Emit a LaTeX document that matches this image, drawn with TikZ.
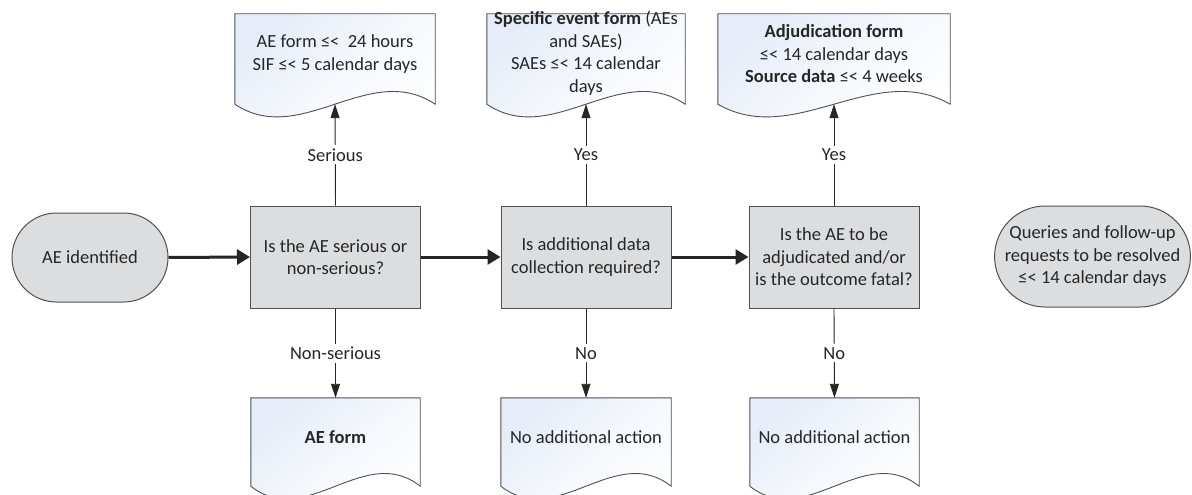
\documentclass[tikz,border=0pt]{standalone}
\usepackage{fontspec}
\setmainfont{Carlito}
\usetikzlibrary{arrows.meta,calc,shapes.misc}

\definecolor{boxgray}{HTML}{DCDDDF}
\definecolor{edgegray}{HTML}{505050}
\definecolor{docblue}{HTML}{E6EDF8}
\definecolor{inkgray}{HTML}{262626}

\tikzset{
  base/.style={font=\fontsize{18.5}{22.5}\selectfont, text=inkgray, align=center},
  decision/.style={base, rectangle, draw=edgegray, line width=1pt, fill=boxgray,
    minimum width=170pt, minimum height=102pt, inner sep=0pt},
  terminal/.style={base, rounded rectangle, draw=edgegray, line width=1pt, fill=boxgray, inner sep=0pt},
  docarea/.style={rectangle, inner sep=0pt},
  doctext/.style={base, inner sep=0pt},
  thinarrow/.style={draw=inkgray, line width=0.9pt, -{Triangle[length=14pt,width=9pt]}},
  thickarrow/.style={draw=inkgray, line width=3pt, -{Triangle[length=13pt,width=15pt]}},
  branch/.style={base, fill=white, inner sep=3pt},
}

% document symbol: flat top, wavy bottom, drawn round a named area
\newcommand\docoutline[1]{%
  \path[draw=edgegray, line width=0.9pt, top color=docblue, bottom color=white, middle color=white!60!docblue, shading angle=40]
    (#1.north west) -- (#1.north east) -- (#1.south east)
    .. controls ($(#1.south east)!0.33!(#1.south west)+(0pt,44pt)$)
       and ($(#1.south east)!0.67!(#1.south west)+(0pt,-44pt)$) .. (#1.south west)
    -- cycle;}

\begin{document}
\begin{tikzpicture}[x=1pt,y=-1pt]
  \useasboundingbox[fill=white] (0,0) rectangle (1192,495);

  % document areas
  \node[docarea, minimum width=200pt, minimum height=90pt] (d1) at (335,59) {};
  \node[docarea, minimum width=198pt, minimum height=90pt] (d2) at (586,59) {};
  \node[docarea, minimum width=232pt, minimum height=90pt] (d3) at (834,59) {};
  \node[docarea, minimum width=169pt, minimum height=88pt] (b1) at (335.5,442) {};
  \node[docarea, minimum width=170pt, minimum height=88pt] (b2) at (586,442) {};
  \node[docarea, minimum width=169pt, minimum height=88pt] (b3) at (834.5,442) {};
  \foreach \d in {d1,d2,d3,b1,b2,b3} {\docoutline{\d}}

  \node[doctext] (d1t) at (335,54) {AE form ≤<~ 24 hours\\SIF ≤< 5 calendar days};
  \node[doctext] (d2t) at (586,53) {\textbf{Specific event form} (AEs\\and SAEs)\\SAEs ≤< 14 calendar\\days};
  \node[doctext] (d3t) at (834,54) {\textbf{Adjudication form}\\≤< 14 calendar days\\\textbf{Source data} ≤< 4 weeks};
  \node[doctext] (b1t) at (335.5,437) {\textbf{AE form}};
  \node[doctext] (b2t) at (586,437) {No additional action};
  \node[doctext] (b3t) at (834.5,437) {No additional action};

  % decisions
  \node[decision] (q1) at (335.5,257) {Is the AE serious or\\non-serious?};
  \node[decision] (q2) at (586,257) {Is additional data\\collection required?};
  \node[decision] (q3) at (834,257) {Is the AE to be\\adjudicated and/or\\is the outcome fatal?};

  % terminals
  \node[terminal, minimum width=156pt, minimum height=89pt] (start) at (90,257.5) {AE identified};
  \node[terminal, minimum width=195pt, minimum height=101pt] (done) at (1092.5,256.5)
    {Queries and follow-up\\requests to be resolved\\≤< 14 calendar days};

  % main flow
  \draw[thickarrow] (start.east) -- (q1.west);
  \draw[thickarrow] (q1.east) -- (q2.west);
  \draw[thickarrow] (q2.east) -- (q3.west);

  % branches
  \draw[thinarrow] (q1.north) -- node[branch] {Serious} (d1.south);
  \draw[thinarrow] (q1.south) -- node[branch] {Non-serious} (b1.north);
  \draw[thinarrow] (q2.north) -- node[branch] {Yes} (d2.south);
  \draw[thinarrow] (q2.south) -- node[branch] {No} (b2.north);
  \draw[thinarrow] (q3.north) -- node[branch] {Yes} (d3.south);
  \draw[thinarrow] (q3.south) -- node[branch] {No} (b3.north);
\end{tikzpicture}
\end{document}
